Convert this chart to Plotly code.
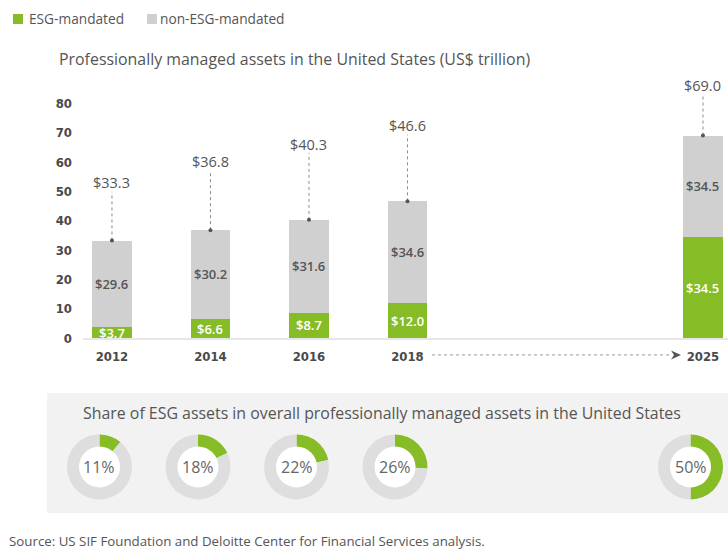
import plotly.graph_objects as go

# ---------------- data ----------------
years = ["2012", "2014", "2016", "2018", "2025"]
slot = [0, 1, 2, 3, 6]                     # category slot on the x axis
esg = [3.7, 6.6, 8.7, 12.0, 34.5]          # ESG-mandated (US$ trillion)
non_esg = [29.6, 30.2, 31.6, 34.6, 34.5]   # non-ESG-mandated
totals = [33.3, 36.8, 40.3, 46.6, 69.0]
share_pct = [11, 18, 22, 26, 50]
y_ticks = [0, 10, 20, 30, 40, 50, 60, 70, 80]

# ---------------- layout / style constants ----------------
W, H = 728, 553
VS = 561 / 553          # vertical compensation for the capture
GREEN = "#86BC25"
GRAY_BAR = "#D0D0D0"
GRAY_RING = "#DEDEDE"
TXT = "#555555"
TICK = "#4A4A4A"
FONT = "Open Sans"
COND = "Liberation Sans Narrow, DejaVu Sans Condensed, Roboto, sans-serif"
total_label_y = [52.9, 60.0, 66.1, 72.3, 85.9]   # height of the total labels (axis units)

def px_x(p):
    return p / W

def px_y(p):
    return 1 - min(p * VS, H - 0.5) / H

fig = go.Figure()

fig.add_trace(go.Bar(x=slot, y=esg, width=0.405, marker=dict(color=GREEN, line=dict(width=0)),
                     name="ESG-mandated", hoverinfo="skip"))
fig.add_trace(go.Bar(x=slot, y=non_esg, width=0.405, marker=dict(color=GRAY_BAR, line=dict(width=0)),
                     name="non-ESG-mandated", hoverinfo="skip"))

lx, ly = [], []
for s, t, ty in zip(slot, totals, total_label_y):
    lx += [s, s, None]
    ly += [t, ty - 3.0, None]
fig.add_trace(go.Scatter(x=lx, y=ly, mode="lines", line=dict(color="#8C8C8C", width=1, dash="dot"),
                         hoverinfo="skip", cliponaxis=False))
fig.add_trace(go.Scatter(x=slot, y=totals, mode="markers", marker=dict(color="#555555", size=4),
                         hoverinfo="skip", cliponaxis=False))

ann = []
for s, t, ty in zip(slot, totals, total_label_y):
    ann.append(dict(x=s, y=ty, xref="x", yref="y", text=f"${t:.1f}", showarrow=False,
                    font=dict(family=FONT, size=14.5, color=TXT), yanchor="middle"))
for s, e, n in zip(slot, esg, non_esg):
    ann.append(dict(x=s, y=e / 2, xref="x", yref="y", text=f"${e:.1f}", showarrow=False,
                    font=dict(family=FONT, size=13, color="white", weight=600), yanchor="middle"))
    ann.append(dict(x=s, y=e + n / 2, xref="x", yref="y", text=f"${n:.1f}", showarrow=False,
                    font=dict(family=FONT, size=13, color=TXT, weight=600), yanchor="middle"))

shapes = []
shapes.append(dict(type="rect", xref="paper", yref="paper", x0=px_x(13), x1=px_x(23), y0=px_y(24), y1=px_y(14),
                   fillcolor=GREEN, line=dict(width=0)))
shapes.append(dict(type="rect", xref="paper", yref="paper", x0=px_x(147), x1=px_x(157), y0=px_y(24), y1=px_y(14),
                   fillcolor=GRAY_BAR, line=dict(width=0)))
ann.append(dict(x=px_x(27), y=px_y(18.5), xref="paper", yref="paper", text="ESG-mandated", showarrow=False,
                xanchor="left", yanchor="middle", font=dict(family=FONT, size=13.7, color=TXT)))
ann.append(dict(x=px_x(158), y=px_y(18.5), xref="paper", yref="paper", text="non-ESG-mandated", showarrow=False,
                xanchor="left", yanchor="middle", font=dict(family=FONT, size=13.7, color=TXT)))
ann.append(dict(x=px_x(57), y=px_y(59), xref="paper", yref="paper",
                text="Professionally managed assets in the United States (US$ trillion)", showarrow=False,
                xanchor="left", yanchor="middle", font=dict(family=FONT, size=15.9, color=TXT)))
ay = px_y(355)
shapes.append(dict(type="line", xref="paper", yref="paper", x0=px_x(432), x1=px_x(670), y0=ay, y1=ay,
                   line=dict(color="#9A9A9A", width=1, dash="dot")))
shapes.append(dict(type="path", xref="paper", yref="paper",
                   path=f"M{px_x(671)},{px_y(350.5)} L{px_x(681)},{px_y(355)} L{px_x(671)},{px_y(359.5)} L{px_x(674)},{px_y(355)} Z",
                   fillcolor="#555555", line=dict(width=0)))
shapes.append(dict(type="rect", xref="paper", yref="paper", x0=px_x(47), x1=1, y0=px_y(513), y1=px_y(393),
                   fillcolor="#F2F2F2", line=dict(width=0), layer="below"))
ann.append(dict(x=px_x(81), y=px_y(413), xref="paper", yref="paper",
                text="Share of ESG assets in overall professionally managed assets in the United States",
                showarrow=False, xanchor="left", yanchor="middle", font=dict(family=FONT, size=15.9, color=TXT)))

cy, r, rin = 467, 32.5, 20.5
for s, e, n, p in zip(slot, esg, non_esg, share_pct):
    cx = 112 + 98.5 * s - 12.5
    rx = r
    ry = r * VS
    fig.add_trace(go.Pie(values=[e, n], sort=False, direction="clockwise", rotation=0, hole=0.6,
                         marker=dict(colors=[GREEN, GRAY_RING], line=dict(width=0)),
                         textinfo="none", hoverinfo="skip", showlegend=False,
                         domain=dict(x=[px_x(cx - rx), px_x(cx + rx)], y=[px_y(cy + r), px_y(cy - r)])))
    shapes.append(dict(type="circle", xref="paper", yref="paper", x0=px_x(cx - rin), x1=px_x(cx + rin),
                       y0=px_y(cy + rin), y1=px_y(cy - rin), fillcolor="white", line=dict(width=0), layer="above"))
    ann.append(dict(x=px_x(cx), y=px_y(cy), xref="paper", yref="paper", text=f"{p}%", showarrow=False,
                    xanchor="center", yanchor="middle", font=dict(family=FONT, size=16, color="#666666")))

ann.append(dict(x=px_x(7), y=px_y(544), xref="paper", yref="paper",
                text="Source: US SIF Foundation and Deloitte Center for Financial Services analysis.",
                showarrow=False, xanchor="left", yanchor="bottom", yshift=-8,
                font=dict(family=FONT, size=13.3, color=TXT)))

fig.update_layout(
    width=W, height=H, margin=dict(l=0, r=0, t=0, b=0),
    paper_bgcolor="white", plot_bgcolor="white",
    barmode="stack", bargap=0, showlegend=False,
    xaxis=dict(domain=[83 / W, 1], range=[-0.294, 6.254], tickvals=slot, ticktext=years,
               tickfont=dict(family=COND, size=13, color=TICK, weight="bold"),
               showgrid=False, zeroline=False, showline=True, linecolor="#E6E6E6", linewidth=2,
               ticks="", ticklabelstandoff=5, fixedrange=True),
    yaxis=dict(domain=[px_y(338.3), px_y(73.9)], range=[0, 90], tickvals=y_ticks,
               tickfont=dict(family=COND, size=13, color=TICK, weight="bold"),
               showgrid=False, zeroline=False, showline=False, ticks="", ticklabelstandoff=10,
               fixedrange=True),
    shapes=shapes, annotations=ann,
)

fig.write_html("out.html")
